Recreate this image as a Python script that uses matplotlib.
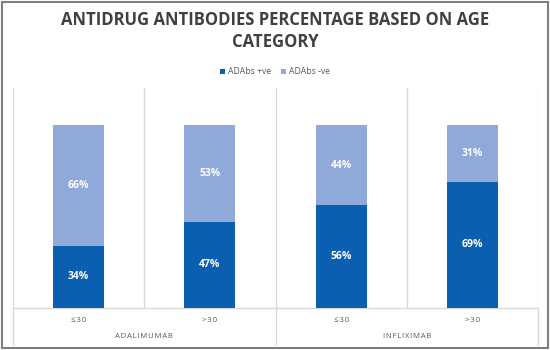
import matplotlib.pyplot as plt
from matplotlib.patches import Rectangle
import numpy as np

# data
drugs = ["ADALIMUMAB", "INFLIXIMAB"]
age_groups = ["≤30", ">30", "≤30", ">30"]
ada_pos = [0.34, 0.47, 0.56, 0.69]
ada_neg = [0.66, 0.53, 0.44, 0.31]
series_names = ["ADAbs +ve", "ADAbs -ve"]
title = "ANTIDRUG ANTIBODIES PERCENTAGE BASED ON AGE\nCATEGORY"

dark_blue = "#0B5FB0"
light_blue = "#8FA9D8"
grid_col = "#D9D9D9"
text_col = "#595959"

plt.rcParams['font.family'] = ['Open Sans', 'DejaVu Sans']


def spaced(s, sep="\u200a"):
    # crude letter spacing, like the Excel chart styles
    return sep.join(s)


fig = plt.figure(figsize=(5.5, 3.5), dpi=100)
W, H = 550, 350

# outer frame
fig.patches.append(Rectangle((2 / W, 2 / H), 546 / W, 346 / H, transform=fig.transFigure,
                             fill=False, edgecolor="#7F7F7F", linewidth=1.5))

ax = fig.add_axes([13 / W, 42 / H, 525 / W, 220 / H])
x = np.arange(len(age_groups))
bw = 0.39
b1 = ax.bar(x, ada_pos, bw, color=dark_blue, label=series_names[0], zorder=3)
b2 = ax.bar(x, ada_neg, bw, bottom=ada_pos, color=light_blue, label=series_names[1], zorder=3)

for xi, p, n in zip(x, ada_pos, ada_neg):
    ax.text(xi, p / 2, f"{p*100:.0f}%", ha="center", va="center", color="white",
            fontsize=7.5, fontweight="bold", zorder=4)
    ax.text(xi, p + n / 2, f"{n*100:.0f}%", ha="center", va="center", color="white",
            fontsize=7.5, fontweight="bold", zorder=4)

ax.set_xlim(-0.5, len(x) - 0.5)
ax.set_ylim(0, 1.2)
ax.set_yticks([])
ax.set_xticks([])
for s in ["top", "left", "right"]:
    ax.spines[s].set_visible(False)
ax.spines["bottom"].set_color(grid_col)
ax.spines["bottom"].set_linewidth(1)

# vertical separators inside the plot
for gx in np.arange(-0.5, len(x), 1.0):
    ax.axvline(gx, color=grid_col, linewidth=1, zorder=1)

# multi-level category axis
tr = ax.get_xaxis_transform()
for xi, lab in zip(x, age_groups):
    ax.text(xi, -12 / 220, spaced(lab), transform=tr, ha="center", va="center",
            fontsize=5.8, color=text_col)
for i, d in enumerate(drugs):
    ax.text(2 * i + 0.5, -28 / 220, spaced(d), transform=tr, ha="center", va="center",
            fontsize=5.6, color=text_col)
for gx in [-0.5, 1.5, 3.5]:
    ax.plot([gx, gx], [0, -36 / 220], transform=tr, color=grid_col,
            linewidth=1, clip_on=False)

fig.text(0.5, 1 - 31 / H, title,
         ha="center", va="center", fontsize=12, fontweight="bold", color="#404040",
         linespacing=1.25)

fig.legend(handles=[b1, b2], labels=series_names, loc="center",
           bbox_to_anchor=(0.5, 1 - 72 / H), ncol=2, frameon=False,
           fontsize=6.2, labelcolor=text_col, handlelength=0.6, handleheight=0.6,
           handletextpad=0.3, columnspacing=1.2)

fig.savefig("out.png", dpi=100)
